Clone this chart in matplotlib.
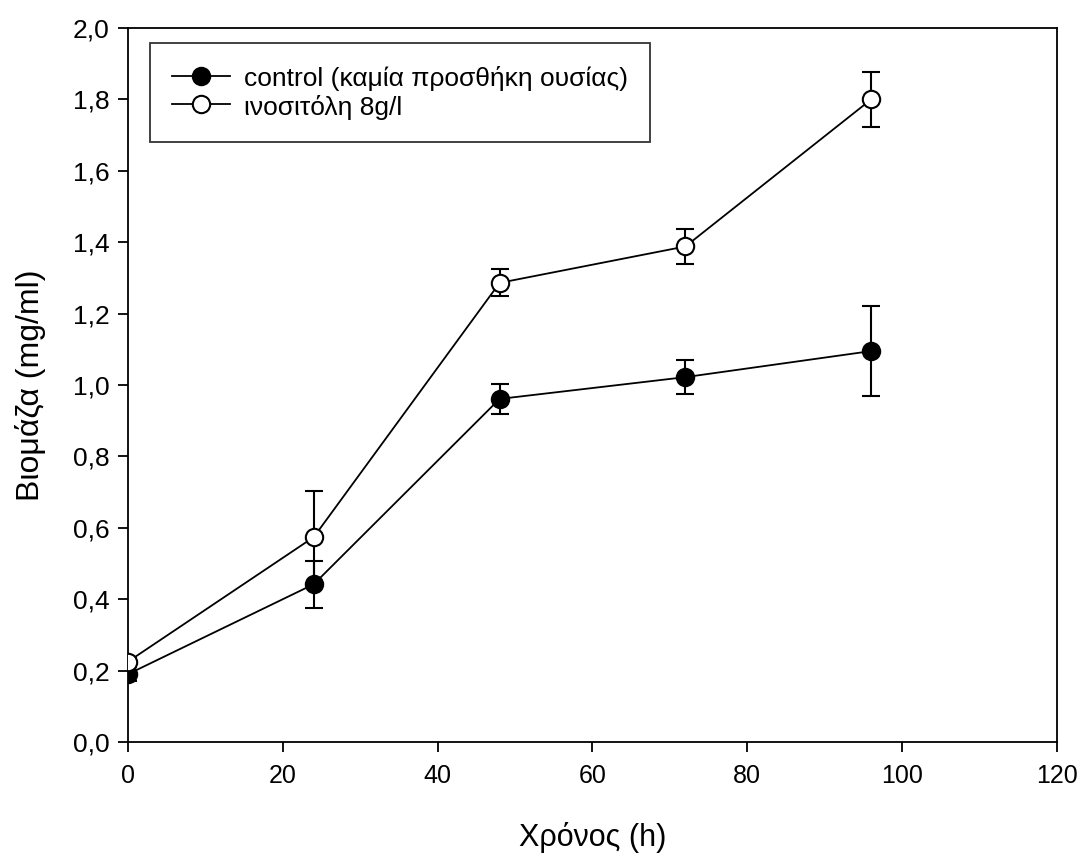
import matplotlib
matplotlib.use("Agg")
import matplotlib.pyplot as plt
from matplotlib.ticker import FuncFormatter, MultipleLocator

plt.rcParams["font.family"] = ["Liberation Sans", "DejaVu Sans"]

# --- data ---
hours = [0, 24, 48, 72, 96]
control = [0.19, 0.442, 0.961, 1.022, 1.095]
control_err = [0.02, 0.066, 0.042, 0.048, 0.125]
inositol = [0.225, 0.574, 1.286, 1.388, 1.800]
inositol_err = [0.01, 0.13, 0.038, 0.048, 0.078]

labels = ["control (καμία προσθήκη ουσίας)", "ινοσιτόλη 8g/l"]

fig = plt.figure(figsize=(10.81, 8.58), dpi=100)
ax = fig.add_axes([0.1184, 0.1352, 0.8594, 0.8322])

# error bars under the lines, markers on top
err_style = dict(fmt="none", ecolor="black", elinewidth=1.5, capsize=6.5,
                 capthick=1.5, zorder=2)
ax.errorbar(hours, control, yerr=control_err, **err_style)
ax.errorbar(hours, inositol, yerr=inositol_err, **err_style)

line_style = dict(color="black", lw=1.3, marker="o", markersize=12.5,
                  markeredgewidth=1.5, markeredgecolor="black", zorder=3)
ax.plot(hours, control, markerfacecolor="black", label=labels[0], **line_style)
ax.plot(hours, inositol, markerfacecolor="white", label=labels[1], **line_style)

ax.set_xlim(0, 120)
ax.set_ylim(0, 2.0)
ax.xaxis.set_major_locator(MultipleLocator(20))
ax.yaxis.set_major_locator(MultipleLocator(0.2))
ax.yaxis.set_major_formatter(FuncFormatter(lambda v, p: f"{v:.1f}".replace(".", ",")))
ax.tick_params(direction="out", length=7.2, width=1.3, top=False, right=False)
ax.tick_params(axis="y", labelsize=19, pad=6)
ax.tick_params(axis="x", labelsize=18, pad=9)
for s in ax.spines.values():
    s.set_linewidth(1.3)

ax.set_xlabel("Χρόνος (h)", fontsize=22, va="top")
ax.xaxis.set_label_coords(0.5, -0.112)
ax.set_ylabel("Βιομάζα (mg/ml)", fontsize=23, va="center")
ax.yaxis.set_label_coords(-0.105, 0.5)

leg = ax.legend(loc="upper left", bbox_to_anchor=(0.0237, 0.979), fontsize=19,
                frameon=True, fancybox=False, edgecolor="black",
                handlelength=2.2, handletextpad=0.5, handleheight=1.0,
                borderpad=0.85, labelspacing=0.1, borderaxespad=0)
leg.get_frame().set_linewidth(1.3)

fig.savefig("out.png", dpi=100)
